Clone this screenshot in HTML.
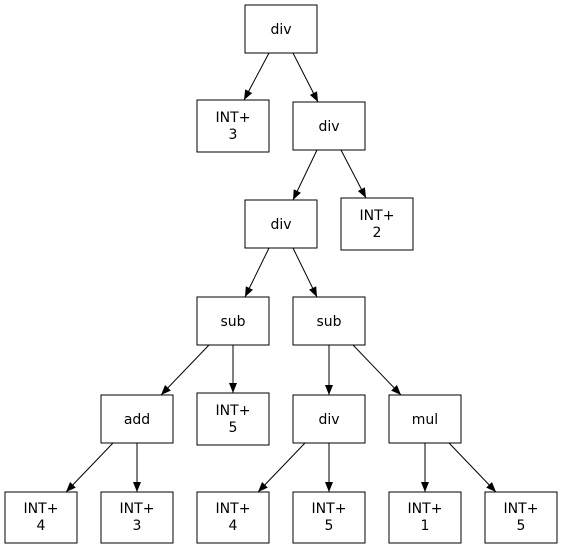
<!DOCTYPE html>
<html><head><meta charset="utf-8"><style>
html,body{margin:0;padding:0;background:#fff;}
svg{display:block;}
text{font-family:"DejaVu Sans","Liberation Sans",sans-serif;font-size:14px;fill:#000;}
</style></head><body>
<svg width="563" height="549" viewBox="0 0 563 549" xmlns="http://www.w3.org/2000/svg">
<defs>
<marker id="a" markerWidth="10" markerHeight="8" refX="10" refY="4" orient="auto" markerUnits="userSpaceOnUse">
<polygon points="0,0 10,4 0,8" fill="#000"/>
</marker>
</defs>
<g fill="none" stroke="#000" stroke-width="1">
<rect x="245" y="5" width="72" height="48"/>
<rect x="197" y="100" width="72" height="52"/>
<rect x="293" y="102" width="72" height="48"/>
<rect x="245" y="200" width="72" height="48"/>
<rect x="341" y="198" width="72" height="52"/>
<rect x="197" y="297" width="72" height="48"/>
<rect x="293" y="297" width="72" height="48"/>
<rect x="101" y="395" width="72" height="48"/>
<rect x="197" y="393" width="72" height="52"/>
<rect x="293" y="395" width="72" height="48"/>
<rect x="389" y="395" width="72" height="48"/>
<rect x="5" y="492" width="72" height="51"/>
<rect x="101" y="492" width="72" height="51"/>
<rect x="197" y="492" width="72" height="51"/>
<rect x="293" y="492" width="72" height="51"/>
<rect x="389" y="492" width="72" height="51"/>
<rect x="485" y="492" width="72" height="51"/>
</g>
<g stroke="#000" stroke-width="1" marker-end="url(#a)">
<line x1="269" y1="53" x2="244" y2="100"/>
<line x1="293" y1="53" x2="318" y2="102"/>
<line x1="317" y1="150" x2="293" y2="200"/>
<line x1="341" y1="150" x2="366" y2="198"/>
<line x1="269" y1="248" x2="245" y2="297"/>
<line x1="293" y1="248" x2="317" y2="297"/>
<line x1="209" y1="345" x2="161" y2="395"/>
<line x1="233" y1="345" x2="233" y2="393"/>
<line x1="329" y1="345" x2="329" y2="395"/>
<line x1="353" y1="345" x2="401" y2="395"/>
<line x1="113" y1="443" x2="66" y2="492"/>
<line x1="137" y1="443" x2="137" y2="492"/>
<line x1="305" y1="443" x2="258" y2="492"/>
<line x1="329" y1="443" x2="329" y2="492"/>
<line x1="425" y1="443" x2="425" y2="492"/>
<line x1="449" y1="443" x2="496" y2="492"/>
</g>
<g text-anchor="middle">
<text x="281" y="34">div</text>
<text x="233" y="122">INT+</text><text x="233" y="139">3</text>
<text x="329" y="131">div</text>
<text x="281" y="229">div</text>
<text x="377" y="220">INT+</text><text x="377" y="237">2</text>
<text x="233" y="326">sub</text>
<text x="329" y="326">sub</text>
<text x="137" y="424">add</text>
<text x="233" y="415">INT+</text><text x="233" y="432">5</text>
<text x="329" y="424">div</text>
<text x="425" y="424">mul</text>
<text x="41" y="513">INT+</text><text x="41" y="530">4</text>
<text x="137" y="513">INT+</text><text x="137" y="530">3</text>
<text x="233" y="513">INT+</text><text x="233" y="530">4</text>
<text x="329" y="513">INT+</text><text x="329" y="530">5</text>
<text x="425" y="513">INT+</text><text x="425" y="530">1</text>
<text x="521" y="513">INT+</text><text x="521" y="530">5</text>
</g>
</svg>
</body></html>
